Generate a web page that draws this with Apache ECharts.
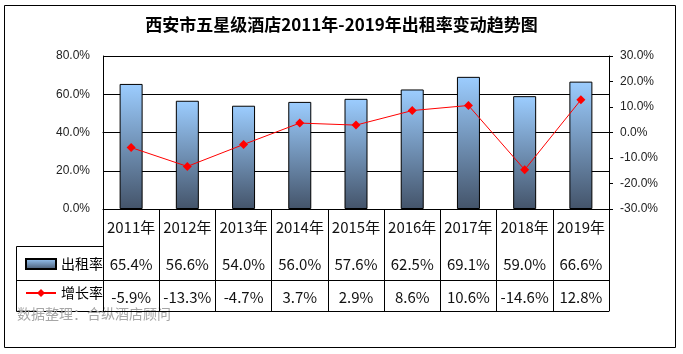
<!DOCTYPE html>
<html>
<head>
<meta charset="utf-8">
<script src="https://cdn.jsdelivr.net/npm/echarts@6/dist/echarts.min.js"></script>
<style>
  html, body { margin: 0; padding: 0; background: #fff; }
  #chart { width: 683px; height: 354px; }
</style>
</head>
<body>
<div id="chart"></div>
<script>
const years = ['2011年', '2012年', '2013年', '2014年', '2015年', '2016年', '2017年', '2018年', '2019年']
const occupancy = [65.4, 56.6, 54.0, 56.0, 57.6, 62.5, 69.1, 59.0, 66.6]
const growth = [-5.9, -13.3, -4.7, 3.7, 2.9, 8.6, 10.6, -14.6, 12.8]

const pct = (v) => v.toFixed(1) + '%'
const cjk = '"Noto Sans CJK SC", "Noto Sans", sans-serif'
const arial = '"Liberation Sans", Arial, sans-serif'

const chart = echarts.init(document.getElementById('chart'))

const barFill = new echarts.graphic.LinearGradient(0, 0, 0, 1, [
  { offset: 0, color: '#9ccdff' },
  { offset: 1, color: '#44546a' }
])

// table row under the plot, drawn as extra x axes
const rowAxis = (offset, margin, values) => ({
  type: 'category',
  data: years,
  position: 'bottom',
  offset,
  axisLine: { show: true, lineStyle: { color: '#000', width: 1 } },
  axisTick: { show: false },
  axisLabel: {
    show: !!values,
    interval: 0,
    hideOverlap: false,
    margin,
    verticalAlign: 'middle',
    color: '#111',
    fontSize: 15,
    fontFamily: cjk,
    formatter: (v, i) => values ? pct(values[i]) : ''
  }
})

chart.setOption({
  animation: false,
  title: {
    text: '西安市五星级酒店2011年-2019年出租率变动趋势图',
    left: 'center',
    top: 11,
    textStyle: { fontSize: 17, fontWeight: 'bold', color: '#000', fontFamily: cjk }
  },
  grid: { left: 103, right: 74, top: 56, bottom: 145 },
  legend: {
    orient: 'vertical',
    left: 20,
    top: 252,
    itemWidth: 30,
    itemHeight: 10,
    itemGap: 15,
    textStyle: { fontSize: 14, color: '#000', fontFamily: cjk },
    data: [{ name: '出租率', icon: 'rect' }, { name: '增长率' }]
  },
  xAxis: [
    {
      type: 'category',
      data: years,
      position: 'bottom',
      axisLine: { lineStyle: { color: '#000', width: 1 } },
      axisTick: { show: true, interval: 0, length: 102, lineStyle: { color: '#000' } },
      axisLabel: { margin: 18, verticalAlign: 'middle', fontSize: 15, color: '#111', fontFamily: cjk, interval: 0 }
    },
    rowAxis(37, 18, occupancy),
    rowAxis(71, 17, growth),
    rowAxis(102, 0, null)
  ],
  yAxis: [
    {
      type: 'value',
      min: 0,
      max: 80,
      interval: 20,
      axisLine: { show: true, lineStyle: { color: '#000' } },
      axisTick: { show: false },
      splitLine: { lineStyle: { color: '#000', width: 1 } },
      axisLabel: { margin: 13, fontSize: 12, color: '#222', fontFamily: arial, formatter: pct }
    },
    {
      type: 'value',
      min: -30,
      max: 30,
      interval: 10,
      position: 'right',
      axisLine: { show: true, lineStyle: { color: '#000' } },
      axisTick: { show: true, length: 4, lineStyle: { color: '#000' } },
      splitLine: { show: false },
      axisLabel: { margin: 11, fontSize: 12, color: '#222', fontFamily: arial, formatter: pct }
    }
  ],
  series: [
    {
      name: '出租率',
      type: 'bar',
      data: occupancy,
      barWidth: 23,
      itemStyle: { color: barFill, borderColor: '#000', borderWidth: 1 }
    },
    {
      name: '增长率',
      type: 'line',
      yAxisIndex: 1,
      data: growth,
      symbol: 'diamond',
      symbolSize: 9,
      lineStyle: { color: '#ff0000', width: 1 },
      itemStyle: { color: '#ff0000' },
      z: 5
    }
  ],
  graphic: [
    // outer frame
    { type: 'rect', shape: { x: 4.5, y: 5.5, width: 671, height: 342 }, style: { fill: 'none', stroke: '#000', lineWidth: 1 } },
    // legend cells of the data table
    { type: 'line', shape: { x1: 16.5, y1: 246.5, x2: 103, y2: 246.5 }, style: { stroke: '#000' } },
    { type: 'line', shape: { x1: 16.5, y1: 280.5, x2: 103, y2: 280.5 }, style: { stroke: '#000' } },
    { type: 'line', shape: { x1: 16.5, y1: 311.5, x2: 103, y2: 311.5 }, style: { stroke: '#000' } },
    { type: 'line', shape: { x1: 16.5, y1: 246.5, x2: 16.5, y2: 311.5 }, style: { stroke: '#000' } },
    {
      type: 'text',
      left: 17,
      top: 307,
      style: { text: '数据整理：合纵酒店顾问', fill: '#a6a6a6', fontSize: 14, fontFamily: cjk }
    }
  ]
})
</script>
</body>
</html>
